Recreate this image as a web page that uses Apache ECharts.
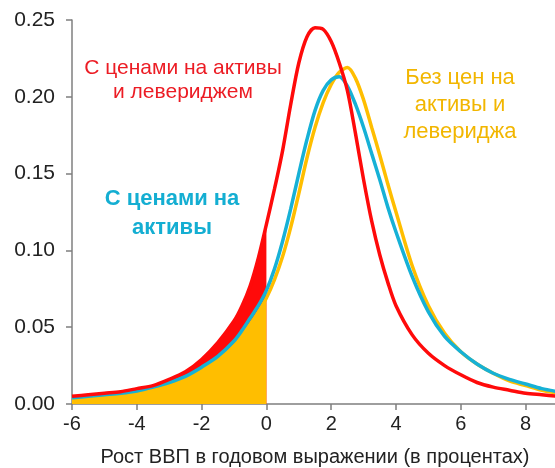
<!DOCTYPE html>
<html lang="ru">
<head>
    <meta charset="UTF-8">
    <title>Рост ВВП</title>
    <script src="https://cdn.jsdelivr.net/npm/echarts@6.0.0/dist/echarts.min.js"></script>
    <style>
        html, body { margin: 0; padding: 0; background: #fff; }
        #chart { width: 555px; height: 468px; }
    </style>
</head>
<body>
<div id="chart"></div>
<script>
    // growth, % (x positions of the density estimates)
    var growth = [-6, -5.5, -5, -4.5, -4, -3.5, -3, -2.5, -2, -1.5, -1, -0.75, -0.5, -0.25, 0,
        0.25, 0.5, 0.75, 1, 1.25, 1.5, 1.75, 2, 2.25, 2.5, 2.75, 3, 3.25, 3.5, 3.75, 4,
        4.5, 5, 5.5, 6, 6.5, 7, 7.5, 8, 8.5, 9];

    // with asset prices and leverage
    var withLeverage = [0.005, 0.006, 0.007, 0.008, 0.010, 0.012, 0.016, 0.021, 0.029, 0.040, 0.054, 0.064, 0.077, 0.095, 0.117,
        0.140, 0.165, 0.195, 0.222, 0.239, 0.245, 0.244, 0.236, 0.222, 0.204, 0.176, 0.146, 0.119, 0.097, 0.079, 0.064,
        0.045, 0.033, 0.025, 0.019, 0.014, 0.011, 0.009, 0.007, 0.006, 0.005];

    // with asset prices
    var withPrices = [0.004, 0.005, 0.006, 0.007, 0.0085, 0.011, 0.014, 0.018, 0.024, 0.031, 0.041, 0.048, 0.056, 0.064, 0.074,
        0.088, 0.106, 0.127, 0.150, 0.172, 0.191, 0.204, 0.211, 0.213, 0.207, 0.195, 0.180, 0.163, 0.146, 0.128, 0.112,
        0.083, 0.060, 0.044, 0.034, 0.026, 0.020, 0.016, 0.013, 0.010, 0.008];

    // without asset prices and leverage
    var withoutBoth = [0.003, 0.004, 0.005, 0.006, 0.0075, 0.010, 0.013, 0.017, 0.022, 0.029, 0.038, 0.045, 0.052, 0.060, 0.069,
        0.081, 0.096, 0.115, 0.137, 0.160, 0.180, 0.196, 0.208, 0.216, 0.219, 0.212, 0.198, 0.180, 0.162, 0.143, 0.125,
        0.090, 0.064, 0.046, 0.034, 0.026, 0.020, 0.015, 0.012, 0.009, 0.007];

    var xTicks = [-6, -4, -2, 0, 2, 4, 6, 8];

    var RED = '#ff0a0a', BLUE = '#16b1d6', GOLD = '#ffbe00';

    function pairs(vals, upTo) {
        var out = [];
        for (var i = 0; i < growth.length; i++) {
            if (upTo === undefined || growth[i] <= upTo) out.push([growth[i], vals[i]]);
        }
        return out;
    }

    var chart = echarts.init(document.getElementById('chart'));
    var font = 'Liberation Sans, Arial, sans-serif';

    var option = {
        animation: false,
        grid: {left: 72, right: -3, top: 20, bottom: 64, outerBoundsMode: 'none'},
        xAxis: {
            type: 'value',
            min: -6,
            max: 9,
            interval: 2,
            name: 'Рост ВВП в годовом выражении (в процентах)',
            nameLocation: 'middle',
            nameGap: 43,
            nameTextStyle: {color: '#222', fontSize: 20, fontFamily: font},
            splitLine: {show: false},
            axisLine: {onZero: false, lineStyle: {color: '#7f7f7f', width: 1.5}},
            axisTick: {length: 6, lineStyle: {color: '#7f7f7f', width: 1.5}},
            axisLabel: {
                color: '#222', fontSize: 20, fontFamily: font, margin: 10,
                showMaxLabel: false,
                formatter: function (v) { return xTicks.indexOf(v) >= 0 ? String(v) : ''; }
            }
        },
        yAxis: {
            type: 'value',
            min: 0,
            max: 0.25,
            interval: 0.05,
            splitLine: {show: false},
            axisLine: {show: true, onZero: false, lineStyle: {color: '#7f7f7f', width: 1.5}},
            axisTick: {show: true, length: 6, lineStyle: {color: '#7f7f7f', width: 1.5}},
            axisLabel: {
                color: '#222', fontSize: 21, fontFamily: font, margin: 17,
                formatter: function (v) { return v.toFixed(2); }
            }
        },
        series: [
            {   // red tail fill (x <= 0)
                type: 'line', data: pairs(withLeverage, 0), smooth: 0.3, symbol: 'none',
                lineStyle: {width: 0}, areaStyle: {color: RED, opacity: 1}, z: 1
            },
            {   // gold tail fill (x <= 0)
                type: 'line', data: pairs(withoutBoth, 0), smooth: 0.3, symbol: 'none',
                lineStyle: {width: 0}, areaStyle: {color: GOLD, opacity: 1}, z: 2
            },
            {
                name: 'Без цен на активы и левериджа',
                type: 'line', data: pairs(withoutBoth), smooth: 0.3, symbol: 'none',
                lineStyle: {color: GOLD, width: 3.5}, z: 3
            },
            {
                name: 'С ценами на активы',
                type: 'line', data: pairs(withPrices), smooth: 0.3, symbol: 'none',
                lineStyle: {color: BLUE, width: 3.5}, z: 4
            },
            {
                name: 'С ценами на активы и левериджем',
                type: 'line', data: pairs(withLeverage), smooth: 0.3, symbol: 'none',
                lineStyle: {color: RED, width: 3.5}, z: 5
            }
        ],
        graphic: [
            {
                type: 'text', left: 183 - 100, top: 56, z: 10,
                style: {
                    text: 'С ценами на активы\nи левериджем', fill: '#ec1c24',
                    font: '21px ' + font, textAlign: 'center', width: 200, lineHeight: 24,
                    x: 100
                }
            },
            {
                type: 'text', left: 172 - 80, top: 184, z: 10,
                style: {
                    text: 'С ценами на\nактивы', fill: '#14aed2',
                    font: 'bold 22px ' + font, textAlign: 'center', width: 160, lineHeight: 29,
                    x: 80
                }
            },
            {
                type: 'text', left: 460 - 70, top: 64, z: 10,
                style: {
                    text: 'Без цен на\nактивы и\nлевериджа', fill: '#f2b600',
                    font: '22px ' + font, textAlign: 'center', width: 140, lineHeight: 27,
                    x: 70
                }
            }
        ]
    };

    chart.setOption(option);
</script>
</body>
</html>
